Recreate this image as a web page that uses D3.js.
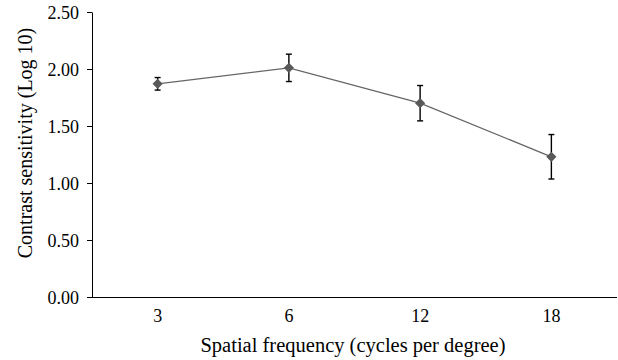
<!DOCTYPE html>
<html><head><meta charset="utf-8">
<script src="https://cdn.jsdelivr.net/npm/d3@7"></script>
<style>body{margin:0;background:#fff}svg{display:block}text{font-family:"Liberation Serif","Times New Roman",serif}</style>
</head><body><svg width="618" height="360"></svg>
<script>
const categories = ["3", "6", "12", "18"];
const values = [1.87, 2.01, 1.70, 1.23];
const errors = [0.055, 0.12, 0.155, 0.195];
const yTicks = [0, 0.5, 1.0, 1.5, 2.0, 2.5];

const svg = d3.select("svg");
const m = {left: 92, right: 1, top: 12, bottom: 63};
const W = 618, H = 360;
const x = d3.scaleBand().domain(categories).range([m.left, W - m.right]);
const y = d3.scaleLinear().domain([0, 2.5]).range([H - m.bottom, m.top]);

const ya = svg.append("g").attr("transform", `translate(${m.left},0)`)
  .call(d3.axisLeft(y).tickValues(yTicks).tickFormat(d3.format(".2f")).tickSize(5).tickSizeOuter(0));
ya.selectAll("text").attr("font-size", 18).attr("fill", "#000").attr("x", -13).attr("dy", "0.36em");
ya.select(".domain").attr("stroke", "#000");
ya.selectAll(".tick line").attr("stroke", "#000");

const xa = svg.append("g").attr("transform", `translate(0,${y(0)})`)
  .call(d3.axisBottom(x).tickSize(0).tickSizeOuter(0));
xa.select(".domain").attr("stroke", "#000").attr("d", `M${m.left - 5},0.5H${W - m.right}`);
xa.selectAll("text").attr("font-size", 18).attr("fill", "#000").attr("y", 3).attr("dy", "1.2em");

const cx = d => x(d) + x.bandwidth() / 2;
const data = categories.map((c, i) => ({c, v: values[i], e: errors[i]}));

svg.append("path").datum(data)
  .attr("fill", "none").attr("stroke", "#666").attr("stroke-width", 1.3)
  .attr("d", d3.line().x(d => cx(d.c)).y(d => y(d.v)));

const eb = svg.append("g").attr("stroke", "#000").attr("stroke-width", 1.4);
data.forEach(d => {
  const X = cx(d.c);
  eb.append("line").attr("x1", X).attr("x2", X).attr("y1", y(d.v + d.e)).attr("y2", y(d.v - d.e));
  eb.append("line").attr("x1", X - 3).attr("x2", X + 3).attr("y1", y(d.v + d.e)).attr("y2", y(d.v + d.e));
  eb.append("line").attr("x1", X - 3).attr("x2", X + 3).attr("y1", y(d.v - d.e)).attr("y2", y(d.v - d.e));
});

svg.append("g").selectAll("path").data(data).join("path")
  .attr("transform", d => `translate(${cx(d.c)},${y(d.v)}) rotate(45)`)
  .attr("d", d3.symbol(d3.symbolSquare, 52)())
  .attr("fill", "#595959");

svg.append("text").attr("x", 353).attr("y", 352)
  .attr("text-anchor", "middle").attr("font-size", 20.5)
  .text("Spatial frequency (cycles per degree)");
svg.append("text").attr("transform", `translate(32,143) rotate(-90)`)
  .attr("text-anchor", "middle").attr("font-size", 20)
  .text("Contrast sensitivity (Log 10)");
</script></body></html>
